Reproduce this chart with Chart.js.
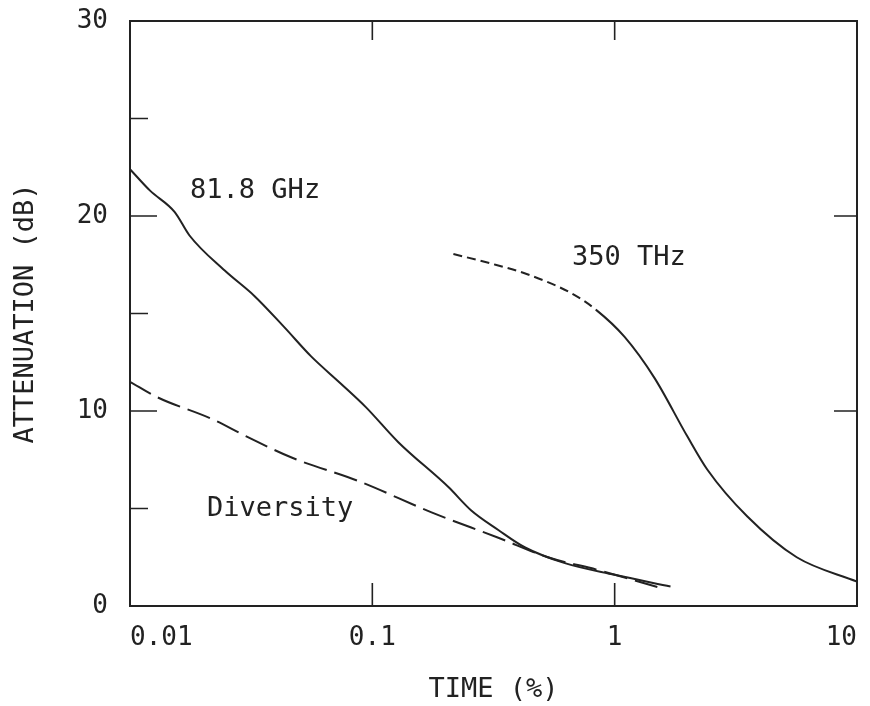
<!DOCTYPE html>
<html>
<head>
<meta charset="utf-8">
<script src="https://cdn.jsdelivr.net/npm/chart.js@4/dist/chart.umd.min.js"></script>
<style>
  html, body { margin: 0; padding: 0; background: #fff; }
  #wrap { width: 870px; height: 706px; }
</style>
</head>
<body>
<div id="wrap"><canvas id="attenChart"></canvas></div>
<script>
// values (time in %, attenuation in dB)
const ghzTime  = [0.01, 0.0121, 0.0153, 0.0176, 0.0246, 0.0326, 0.0433, 0.0559, 0.0742, 0.094, 0.128, 0.206, 0.256, 0.331, 0.427, 0.623, 1.0, 1.70];
const ghzAtten = [22.4, 21.3, 20.2, 19.0, 17.2, 15.9, 14.3, 12.8, 11.4, 10.2, 8.4, 6.1, 4.9, 3.9, 3.0, 2.2, 1.6, 1.0];

const divTime  = [0.01, 0.013, 0.0217, 0.0302, 0.0467, 0.088, 0.1755, 0.331, 0.53, 0.851, 1.50];
const divAtten = [11.5, 10.7, 9.6, 8.7, 7.6, 6.4, 4.8, 3.5, 2.5, 1.85, 0.97];

const thzTime  = [0.216, 0.301, 0.439, 0.66, 0.836, 1.099, 1.459, 1.994, 2.41, 3.52, 5.64, 10];
const thzAtten = [18.05, 17.6, 17.0, 16.05, 15.2, 13.8, 11.7, 8.7, 7.0, 4.6, 2.5, 1.25];
const thzDashEnd = 0.836;   // 350 THz curve is dashed up to here

const xTicks = [0.01, 0.1, 1, 10];
const xTickLabels = ['0.01', '0.1', '1', '10'];
const yTicks = [0, 10, 20, 30];

const curveLabels = [
    { text: '81.8 GHz', x: 0.0177, y: 21.3 },
    { text: 'Diversity', x: 0.0208, y: 5.0 },
    { text: '350 THz', x: 0.667, y: 17.85 }
];

const ink = '#222';
const fontFamily = "'DejaVu Sans Mono', monospace";
Chart.defaults.font.family = fontFamily;
Chart.defaults.color = ink;

function toPoints(xs, ys) {
    return xs.map((x, i) => ({ x: x, y: ys[i] }));
}

// frame on top/right, inward tick marks and curve labels
const framePlugin = {
    id: 'frame',
    afterDraw(chart) {
        const ctx = chart.ctx;
        const a = chart.chartArea;
        const xs = chart.scales.x, ys = chart.scales.y;
        ctx.save();
        ctx.strokeStyle = ink;
        ctx.lineWidth = 2;
        ctx.beginPath();
        ctx.moveTo(a.left, a.top);
        ctx.lineTo(a.right, a.top);
        ctx.lineTo(a.right, a.bottom);
        ctx.stroke();

        ctx.lineWidth = 1.6;
        ctx.beginPath();
        [5, 10, 15, 20, 25].forEach(v => {
            const py = ys.getPixelForValue(v);
            const len = v % 10 === 0 ? 27 : 18;
            ctx.moveTo(a.left, py); ctx.lineTo(a.left + len, py);
        });
        [10, 20].forEach(v => {
            const py = ys.getPixelForValue(v);
            ctx.moveTo(a.right, py); ctx.lineTo(a.right - 23, py);
        });
        [0.1, 1].forEach(v => {
            const px = xs.getPixelForValue(v);
            ctx.moveTo(px, a.bottom); ctx.lineTo(px, a.bottom - 23);
            ctx.moveTo(px, a.top); ctx.lineTo(px, a.top + 19);
        });
        ctx.stroke();

        ctx.fillStyle = ink;
        ctx.font = '27px ' + fontFamily;
        ctx.textAlign = 'left';
        ctx.textBaseline = 'middle';
        curveLabels.forEach(l => {
            ctx.fillText(l.text, xs.getPixelForValue(l.x), ys.getPixelForValue(l.y));
        });
        ctx.restore();
    }
};

const lineStyle = {
    showLine: true,
    pointRadius: 0,
    borderColor: ink,
    borderWidth: 2,
    fill: false,
    cubicInterpolationMode: 'monotone'
};

new Chart(document.getElementById('attenChart'), {
    type: 'scatter',
    data: {
        datasets: [
            Object.assign({ label: '81.8 GHz', data: toPoints(ghzTime, ghzAtten) }, lineStyle),
            Object.assign({ label: 'Diversity', data: toPoints(divTime, divAtten), borderDash: [24, 8] }, lineStyle),
            Object.assign({
                label: '350 THz',
                data: toPoints(thzTime, thzAtten),
                segment: {
                    borderDash: c => c.p1.parsed.x <= thzDashEnd ? [9, 5] : undefined
                }
            }, lineStyle)
        ]
    },
    options: {
        responsive: true,
        maintainAspectRatio: false,
        animation: false,
        layout: { padding: { top: 21, right: 13, left: 0, bottom: 0 } },
        plugins: {
            legend: { display: false },
            tooltip: { enabled: false }
        },
        scales: {
            x: {
                type: 'logarithmic',
                min: 0.01,
                max: 10,
                afterBuildTicks: s => { s.ticks = xTicks.map(v => ({ value: v })); },
                afterFit: s => { s.height = 100; s.paddingLeft = 0; s.paddingRight = 0; },
                ticks: {
                    align: 'inner',
                    padding: 17,
                    font: { size: 26 },
                    callback: (v, i) => xTickLabels[i]
                },
                grid: { display: false, drawTicks: false },
                border: { display: true, color: ink, width: 2 },
                title: {
                    display: true,
                    text: 'TIME (%)',
                    font: { size: 27 },
                    padding: { top: 0, bottom: 0 }
                }
            },
            y: {
                min: 0,
                max: 30,
                afterBuildTicks: s => { s.ticks = yTicks.map(v => ({ value: v })); },
                afterFit: s => { s.width = 130; s.paddingTop = 0; s.paddingBottom = 0; },
                ticks: {
                    padding: 22,
                    font: { size: 26 }
                },
                grid: { display: false, drawTicks: false },
                border: { display: true, color: ink, width: 2 },
                title: {
                    display: true,
                    text: 'ATTENUATION (dB)',
                    font: { size: 27 },
                    padding: { top: 10, bottom: 0 }
                }
            }
        }
    },
    plugins: [framePlugin]
});
</script>
</body>
</html>
